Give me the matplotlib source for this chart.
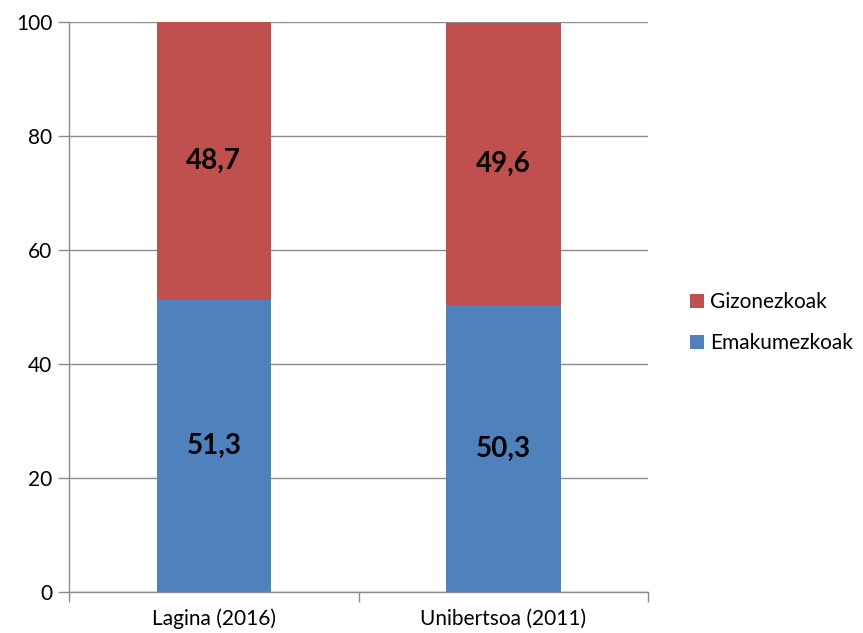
import numpy as np
import matplotlib
matplotlib.use("Agg")
import matplotlib.pyplot as plt

plt.rcParams['font.family'] = ['Lato', 'DejaVu Sans']

# --- data ---
categories = ['Lagina (2016)', 'Unibertsoa (2011)']
emakumezkoak = [51.3, 50.3]
gizonezkoak = [48.7, 49.6]
emak_labels = ['51,3', '50,3']
gizon_labels = ['48,7', '49,6']
yticks = [0, 20, 40, 60, 80, 100]

blue = '#4f81bd'
red = '#c0504d'

fig = plt.figure(figsize=(8.63, 6.33), dpi=100)
ax = fig.add_axes([0.080, 0.065, 0.671, 0.900])

x = np.arange(len(categories))
b1 = ax.bar(x, emakumezkoak, width=0.395, color=blue, label='Emakumezkoak', zorder=3)
b2 = ax.bar(x, gizonezkoak, width=0.395, bottom=emakumezkoak, color=red, label='Gizonezkoak', zorder=3)

ax.bar_label(b1, labels=emak_labels, label_type='center', fontsize=20, fontweight='bold', color='black')
ax.bar_label(b2, labels=gizon_labels, label_type='center', fontsize=20, fontweight='bold', color='black')

ax.set_xlim(-0.5, len(categories) - 0.5)
ax.set_ylim(0, 100)
ax.set_yticks(yticks)
ax.set_yticklabels([str(v) for v in yticks], fontsize=15)
ax.yaxis.grid(True, color='#8c8c8c', linewidth=1, zorder=0)

# category ticks sit at boundaries
ax.set_xticks(x)
ax.set_xticklabels(categories, fontsize=15)
ax.tick_params(axis='x', length=0, pad=12)
ax.set_xticks(np.arange(-0.5, len(categories)), minor=True)
ax.tick_params(axis='x', which='minor', length=7, direction='out', color='#8c8c8c', width=1)
ax.tick_params(axis='y', length=8, color='#8c8c8c', width=1, pad=4)

for s in ['top', 'right']:
    ax.spines[s].set_visible(False)
for s in ['left', 'bottom']:
    ax.spines[s].set_color('#8c8c8c')
    ax.spines[s].set_linewidth(1)

handles, labels = ax.get_legend_handles_labels()
fig.legend(handles[::-1], labels[::-1], loc='center left', bbox_to_anchor=(0.799, 0.49),
           frameon=False, fontsize=15, handlelength=0.7, handleheight=0.7,
           handletextpad=0.3, labelspacing=1.0, borderaxespad=0, borderpad=0)

fig.savefig('out.png', dpi=100)
